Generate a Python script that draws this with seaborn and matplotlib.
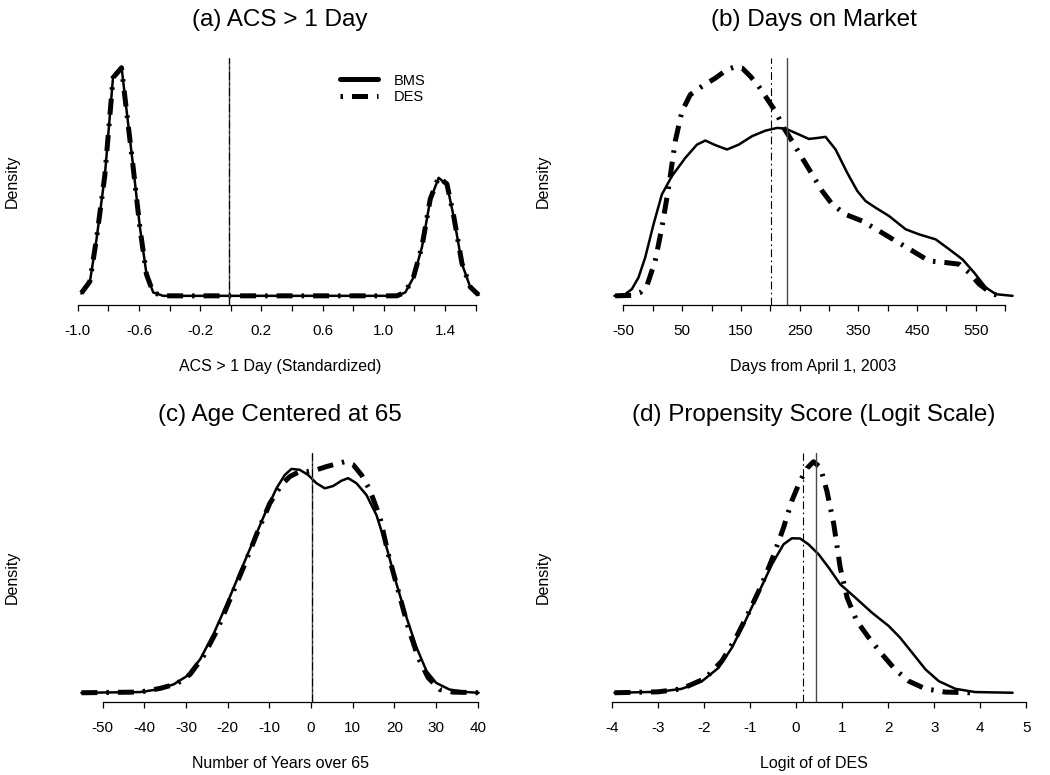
import numpy as np
import matplotlib
matplotlib.use("Agg")
import matplotlib.pyplot as plt
from matplotlib.lines import Line2D
import seaborn as sns

# ---- data (density heights are relative, no y scale shown) ----
# (a) ACS > 1 Day, standardized
acs_bms_x = [-0.976, -0.921, -0.878, -0.823, -0.769, -0.714, -0.682, -0.638, -0.594,
             -0.551, -0.507, -0.442, 0.0, 0.6, 1.085, 1.14, 1.194, 1.249, 1.303,
             1.358, 1.412, 1.456, 1.51, 1.565, 1.619]
acs_bms_y = [0.01, 0.059, 0.243, 0.522, 0.956, 1.0, 0.816, 0.566, 0.301,
             0.096, 0.015, 0.0, 0.0, 0.0, 0.0, 0.015, 0.081, 0.213, 0.419,
             0.515, 0.485, 0.346, 0.14, 0.037, 0.004]
acs_des_x = [-0.976, -0.921, -0.878, -0.823, -0.769, -0.714, -0.682, -0.638, -0.594,
             -0.551, -0.507, -0.442, 0.0, 0.6, 1.085, 1.14, 1.194, 1.249, 1.303,
             1.358, 1.412, 1.456, 1.51, 1.565, 1.619]
acs_des_y = [0.012, 0.062, 0.246, 0.525, 0.952, 0.995, 0.812, 0.562, 0.298,
             0.094, 0.014, 0.0, 0.0, 0.0, 0.0, 0.016, 0.083, 0.216, 0.422,
             0.518, 0.488, 0.349, 0.142, 0.038, 0.004]
acs_means = {"BMS": -0.01, "DES": -0.01}

# (b) Days on market
days_bms_x = [-65.4, -47.2, -35.8, -24.4, -13.0, 1.2, 15.4, 32.5, 55.2, 75.1, 89.4,
              106.4, 126.3, 146.2, 169.0, 191.7, 211.6, 225.9, 242.9, 265.7, 279.9,
              294.1, 311.2, 331.1, 348.2, 362.4, 379.4, 402.2, 430.6, 453.4, 481.8,
              504.6, 527.3, 547.2, 567.1, 584.2, 612.6]
days_bms_y = [0.0, 0.007, 0.029, 0.08, 0.167, 0.312, 0.442, 0.522, 0.601, 0.659, 0.677,
              0.657, 0.638, 0.659, 0.696, 0.72, 0.732, 0.729, 0.71, 0.684, 0.688,
              0.693, 0.638, 0.536, 0.457, 0.413, 0.384, 0.348, 0.29, 0.268, 0.246,
              0.203, 0.159, 0.101, 0.036, 0.007, 0.0]
days_des_x = [-64.2, -35.8, -21.6, -10.2, 4.0, 15.4, 26.8, 38.2, 49.5, 63.8, 83.7,
              106.4, 126.3, 140.6, 152.0, 166.1, 180.4, 197.4, 208.8, 223.0, 237.2,
              254.3, 271.4, 288.4, 305.5, 328.2, 356.7, 385.1, 413.6, 442.0, 470.4,
              498.9, 521.6, 538.7, 555.7, 578.5, 595.6]
days_des_y = [0.0, 0.002, 0.014, 0.043, 0.152, 0.297, 0.471, 0.674, 0.804, 0.877, 0.913,
              0.949, 0.986, 0.999, 0.993, 0.957, 0.913, 0.848, 0.804, 0.732, 0.674,
              0.601, 0.529, 0.457, 0.399, 0.355, 0.326, 0.283, 0.239, 0.196, 0.152,
              0.145, 0.138, 0.101, 0.051, 0.007, 0.0]
days_means = {"BMS": 229.3, "DES": 201.5}

# (c) Age centered at 65
age_bms_x = [-55.1, -41.0, -37.0, -33.0, -29.8, -26.6, -23.4, -20.2, -17.0, -13.8,
             -10.7, -8.3, -6.3, -4.7, -2.7, -0.7, 1.3, 3.3, 5.3, 7.3, 8.9, 10.9,
             13.3, 15.7, 18.1, 20.5, 22.9, 25.3, 27.7, 30.0, 33.2, 37.2, 40.2]
age_bms_y = [0.0, 0.003, 0.014, 0.036, 0.072, 0.145, 0.254, 0.384, 0.522, 0.659,
             0.79, 0.884, 0.942, 0.968, 0.964, 0.942, 0.906, 0.884, 0.894, 0.917,
             0.928, 0.906, 0.855, 0.768, 0.63, 0.471, 0.326, 0.196, 0.094, 0.043,
             0.014, 0.003, 0.0]
age_des_x = [-55.1, -41.0, -36.2, -32.2, -29.0, -25.8, -22.6, -19.4, -16.2, -13.0,
             -9.9, -7.1, -5.1, -2.7, -0.7, 1.3, 3.7, 6.1, 8.1, 10.1, 12.1, 14.1,
             16.5, 18.5, 20.9, 23.3, 25.7, 28.1, 30.9, 34.0, 40.2]
age_des_y = [0.0, 0.003, 0.019, 0.039, 0.08, 0.159, 0.268, 0.406, 0.543, 0.688,
             0.819, 0.899, 0.935, 0.957, 0.957, 0.964, 0.978, 0.99, 0.999, 0.986,
             0.942, 0.877, 0.761, 0.601, 0.442, 0.283, 0.152, 0.065, 0.014, 0.003,
             0.0]
age_means = {"BMS": 0.3, "DES": 0.2}

# (d) Propensity score, logit scale
ps_bms_x = [-3.94, -2.99, -2.48, -2.04, -1.68, -1.39, -1.1, -0.81, -0.52, -0.27,
            -0.09, 0.09, 0.27, 0.49, 0.71, 0.96, 1.29, 1.65, 2.01, 2.26, 2.55,
            2.81, 3.1, 3.46, 3.89, 4.7]
ps_bms_y = [0.0, 0.004, 0.017, 0.05, 0.108, 0.195, 0.31, 0.433, 0.556, 0.642,
            0.668, 0.667, 0.642, 0.599, 0.541, 0.469, 0.411, 0.346, 0.289, 0.238,
            0.166, 0.101, 0.05, 0.017, 0.003, 0.0]
ps_des_x = [-3.94, -2.99, -2.48, -1.97, -1.61, -1.32, -1.03, -0.74, -0.49, -0.27,
            -0.09, 0.09, 0.24, 0.38, 0.53, 0.67, 0.82, 0.96, 1.11, 1.32, 1.58,
            1.87, 2.15, 2.44, 2.81, 3.24, 3.78]
ps_des_y = [0.0, 0.004, 0.017, 0.062, 0.137, 0.231, 0.346, 0.469, 0.592, 0.714,
            0.83, 0.916, 0.971, 0.999, 0.974, 0.873, 0.729, 0.541, 0.411, 0.31,
            0.238, 0.166, 0.101, 0.051, 0.017, 0.003, 0.0]
ps_means = {"BMS": 0.44, "DES": 0.16}

titles = ["(a) ACS > 1 Day", "(b) Days on Market",
          "(c) Age Centered at 65", "(d) Propensity Score (Logit Scale)"]
xlabels = ["ACS > 1 Day (Standardized)", "Days from April 1, 2003",
           "Number of Years over 65", "Logit of of DES"]

acs_ticks = [-1.0, -0.8, -0.6, -0.4, -0.2, 0.0, 0.2, 0.4, 0.6, 0.8, 1.0, 1.2, 1.4, 1.6]
acs_ticklabels = ["-1.0", "", "-0.6", "", "-0.2", "", "0.2", "", "0.6", "", "1.0", "", "1.4", ""]
days_ticks = [-50, 0, 50, 100, 150, 200, 250, 300, 350, 400, 450, 500, 550, 600]
days_ticklabels = ["-50", "", "50", "", "150", "", "250", "", "350", "", "450", "", "550", ""]
age_ticks = [-50, -40, -30, -20, -10, 0, 10, 20, 30, 40]
age_ticklabels = ["-50", "-40", "-30", "-20", "-10", "0", "10", "20", "30", "40"]
ps_ticks = [-4, -3, -2, -1, 0, 1, 2, 3, 4, 5]
ps_ticklabels = ["-4", "-3", "-2", "-1", "0", "1", "2", "3", "4", "5"]

sns.set_theme(style="white")
plt.rcParams["font.family"] = ["Liberation Sans", "DejaVu Sans"]
plt.rcParams["axes.unicode_minus"] = False
plt.rcParams["text.color"] = "black"
plt.rcParams["axes.labelcolor"] = "black"
plt.rcParams["xtick.color"] = "black"

DES_DASH = (0, (3.2, 1.8, 0.5, 1.8))
VLINE_DASH = (0, (7, 3, 1.5, 3))

fig = plt.figure(figsize=(10.5, 7.75), dpi=100)
W, H = 1050, 775


def make_axes(left, top, width, height):
    return fig.add_axes([left / W, 1 - (top + height) / H, width / W, height / H])


panels = [
    (make_axes(65.5, 57.5, 429, 247.5), acs_bms_x, acs_bms_y, acs_des_x, acs_des_y,
     acs_means, acs_ticks, acs_ticklabels),
    (make_axes(598.5, 57.5, 430, 247.5), days_bms_x, days_bms_y, days_des_x, days_des_y,
     days_means, days_ticks, days_ticklabels),
    (make_axes(65.5, 452.5, 429, 249.5), age_bms_x, age_bms_y, age_des_x, age_des_y,
     age_means, age_ticks, age_ticklabels),
    (make_axes(598.5, 452.5, 430, 249.5), ps_bms_x, ps_bms_y, ps_des_x, ps_des_y,
     ps_means, ps_ticks, ps_ticklabels),
]

for i, (ax, bx, by, dx, dy, means, ticks, ticklabels) in enumerate(panels):
    sns.lineplot(x=bx, y=by, ax=ax, color="black", linewidth=1.8,
                 estimator=None, sort=False, solid_capstyle="round",
                 solid_joinstyle="round")
    sns.lineplot(x=dx, y=dy, ax=ax, color="black", linewidth=3.6,
                 estimator=None, sort=False, linestyle=DES_DASH)
    ax.axvline(means["BMS"], color="#4a4a4a", linewidth=1.0)
    ax.axvline(means["DES"], color="black", linewidth=0.8, linestyle=VLINE_DASH)

    ax.margins(x=0.04, y=0.04)
    ax.set_xticks(ticks)
    ax.set_xticklabels(ticklabels)
    ax.set_yticks([])
    for side in ["top", "right", "left"]:
        ax.spines[side].set_visible(False)
    ax.spines["bottom"].set_bounds(ticks[0], ticks[-1])
    ax.spines["bottom"].set_linewidth(0.9)
    ax.spines["bottom"].set_color("black")
    ax.tick_params(axis="x", bottom=True, length=4.5, width=0.9, color="black",
                   pad=9.5, labelsize=11, labelcolor="black")

    ax.set_title(titles[i], fontsize=17.5, pad=22.5, color="black")
    ax.set_xlabel(xlabels[i], fontsize=11.5, labelpad=15, color="black")
    ax.set_ylabel("Density", fontsize=11.5, color="black")
    ax.yaxis.set_label_coords(-0.106 if i % 2 == 0 else -0.112, 0.5)

handles = [Line2D([0], [0], color="black", linewidth=3.6, solid_capstyle="round"),
           Line2D([0], [0], color="black", linewidth=3.6,
                  linestyle=(5.0, (3.2, 1.8, 0.5, 1.8)))]
panels[0][0].legend(handles, ["BMS", "DES"], loc="upper left",
                    bbox_to_anchor=(0.64, 0.935), frameon=False, fontsize=10.5,
                    handlelength=2.6, handletextpad=1.1, labelspacing=0.15,
                    borderpad=0, borderaxespad=0, labelcolor="black")

fig.savefig("out.png", dpi=100, facecolor="white")
